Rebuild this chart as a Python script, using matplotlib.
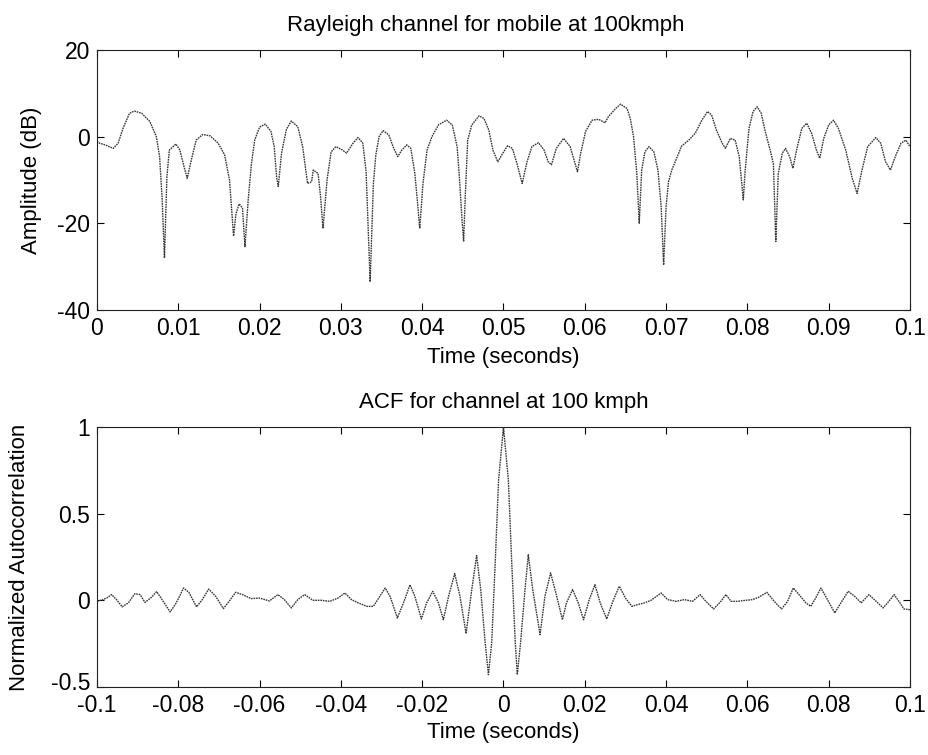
"""
Rayleigh fading channel at 100 kmph and its autocorrelation (MATLAB-style subplots)
"""

import matplotlib
matplotlib.use('Agg')
import matplotlib.pyplot as plt
import matplotlib.transforms as mtransforms

# top panel: channel amplitude in dB
t_chan = [0.0, 0.0003, 0.001, 0.002, 0.0026, 0.0032, 0.004, 0.0046, 0.0055, 0.0065,
          0.0073, 0.0077, 0.008, 0.0083, 0.0086, 0.0089, 0.0097, 0.0102, 0.0107, 0.0111,
          0.0116, 0.0122, 0.013, 0.0139, 0.0149, 0.0157, 0.0163, 0.0168, 0.0171, 0.0175,
          0.0179, 0.0182, 0.0186, 0.019, 0.0194, 0.02, 0.0207, 0.0214, 0.0218, 0.0221,
          0.0223, 0.0227, 0.0233, 0.0239, 0.0247, 0.0253, 0.0259, 0.0264, 0.0266, 0.0272,
          0.0275, 0.0278, 0.0283, 0.0288, 0.0294, 0.0302, 0.0307, 0.0315, 0.0321, 0.0327,
          0.0331, 0.0336, 0.034, 0.0343, 0.0347, 0.0352, 0.0359, 0.0365, 0.037, 0.0375,
          0.0381, 0.0386, 0.0391, 0.0394, 0.0397, 0.0401, 0.0406, 0.0412, 0.042, 0.043,
          0.0437, 0.0443, 0.0446, 0.0449, 0.0451, 0.0453, 0.0456, 0.0461, 0.047, 0.0476,
          0.0482, 0.0487, 0.0493, 0.0498, 0.0505, 0.0511, 0.0517, 0.0523, 0.0529, 0.0535,
          0.0543, 0.055, 0.0555, 0.0559, 0.0565, 0.0574, 0.0582, 0.0588, 0.0591, 0.0595,
          0.0601, 0.0609, 0.0617, 0.0625, 0.0629, 0.0638, 0.0644, 0.0652, 0.0656, 0.066,
          0.0664, 0.0667, 0.067, 0.0674, 0.0679, 0.0685, 0.069, 0.0694, 0.0697, 0.07,
          0.0703, 0.0707, 0.0713, 0.0719, 0.0728, 0.0736, 0.0744, 0.0751, 0.0756, 0.0762,
          0.0769, 0.0773, 0.0779, 0.0785, 0.079, 0.0795, 0.0797, 0.0802, 0.0807, 0.0812,
          0.0817, 0.0822, 0.0828, 0.0832, 0.0835, 0.0838, 0.0843, 0.0847, 0.0852, 0.0856,
          0.0861, 0.0867, 0.0873, 0.0879, 0.0885, 0.0889, 0.0894, 0.09, 0.0906, 0.0912,
          0.0921, 0.0929, 0.0935, 0.0941, 0.0948, 0.0958, 0.0964, 0.097, 0.0976, 0.0982,
          0.0989, 0.0995, 0.1]
amp_db = [-1.0, -1.5, -1.9, -2.7, -1.5, 1.9, 5.4, 5.9, 5.4, 3.5,
          0.0, -4.6, -13.8, -28.0, -9.2, -3.1, -1.7, -3.1, -6.9, -9.6,
          -5.4, -0.8, 0.5, 0.2, -1.5, -4.2, -10.0, -22.9, -17.7, -15.5,
          -16.5, -25.4, -14.6, -6.2, -0.8, 2.2, 2.9, 1.2, -2.3, -9.4,
          -11.5, -3.8, 1.7, 3.6, 2.3, -2.3, -10.8, -10.4, -7.7, -8.5,
          -13.8, -21.2, -10.0, -3.5, -2.3, -3.1, -3.8, -1.5, -0.2, -1.5,
          -8.0, -33.5, -10.8, -4.2, 0.0, 1.4, 0.4, -2.7, -4.6, -3.1,
          -1.9, -2.7, -8.5, -14.6, -21.2, -10.8, -3.1, 0.0, 2.7, 3.8,
          2.7, -2.3, -10.0, -19.2, -24.2, -13.8, -0.8, 2.7, 4.8, 4.2,
          1.5, -3.1, -5.8, -4.2, -2.1, -2.7, -6.5, -10.8, -5.8, -2.3,
          -1.4, -3.1, -5.8, -6.5, -2.7, -0.4, -2.3, -6.2, -8.1, -3.8,
          1.2, 3.8, 4.0, 3.2, 4.6, 6.5, 7.5, 6.5, 4.2, 0.0,
          -8.5, -20.0, -7.7, -3.5, -2.3, -3.5, -7.7, -16.2, -29.6, -16.2,
          -10.4, -7.7, -5.0, -2.2, -0.8, 0.8, 3.8, 5.8, 5.0, 1.5,
          -1.5, -2.7, -0.4, -0.8, -4.6, -14.6, -8.5, 1.9, 5.8, 6.9,
          5.4, 1.2, -3.1, -6.2, -24.2, -8.5, -3.8, -2.7, -4.6, -7.3,
          -2.7, 1.9, 3.1, 0.8, -3.1, -5.0, -0.4, 2.7, 3.8, 1.9,
          -3.1, -9.6, -13.1, -7.7, -2.3, -0.2, -1.5, -5.8, -7.7, -4.6,
          -1.5, -0.8, -2.3]

# bottom panel: normalized autocorrelation vs lag
t_acf = [-0.1, -0.0985, -0.0975, -0.0964, -0.0952, -0.0938, -0.0923, -0.0907, -0.0894, -0.0882,
         -0.0868, -0.0853, -0.084, -0.082, -0.0805, -0.0787, -0.0774, -0.0755, -0.0741, -0.0725,
         -0.0708, -0.0689, -0.0675, -0.0659, -0.0642, -0.0621, -0.06, -0.0576, -0.0555, -0.0539,
         -0.0522, -0.0506, -0.0489, -0.0469, -0.0448, -0.0427, -0.0407, -0.039, -0.0374, -0.0357,
         -0.0336, -0.032, -0.0307, -0.0291, -0.0279, -0.0261, -0.0246, -0.023, -0.0218, -0.0202,
         -0.0189, -0.0174, -0.016, -0.0148, -0.0135, -0.012, -0.0107, -0.0092, -0.0078, -0.0066,
         -0.0056, -0.0045, -0.0037, -0.0029, -0.002, -0.0012, 0.0, 0.0012, 0.002, 0.0029,
         0.0034, 0.0042, 0.0053, 0.0061, 0.0072, 0.009, 0.0102, 0.0116, 0.0131, 0.0145,
         0.0155, 0.017, 0.0184, 0.0197, 0.0211, 0.0225, 0.0238, 0.0254, 0.0269, 0.0285,
         0.03, 0.0316, 0.033, 0.0347, 0.0363, 0.0388, 0.0404, 0.0425, 0.0445, 0.0465,
         0.0484, 0.0498, 0.0517, 0.0535, 0.0547, 0.056, 0.0576, 0.0596, 0.0613, 0.0629,
         0.0648, 0.0666, 0.0684, 0.0699, 0.0713, 0.0727, 0.0744, 0.0756, 0.0768, 0.0781,
         0.0797, 0.0815, 0.083, 0.0848, 0.0864, 0.088, 0.0899, 0.0917, 0.0934, 0.0948,
         0.0961, 0.0973, 0.0985, 0.1]
acf = [-0.006, 0.004, 0.015, 0.033, 0.004, -0.038, -0.015, 0.038, 0.033, -0.012,
       0.013, 0.05, 0.004, -0.067, -0.015, 0.071, 0.046, -0.038, 0.004, 0.065,
       0.023, -0.048, -0.006, 0.046, 0.033, 0.01, 0.013, -0.004, 0.033, 0.004,
       -0.044, 0.004, 0.033, 0.0, 0.0, -0.006, 0.013, 0.042, 0.004, -0.015,
       -0.035, -0.035, 0.013, 0.071, 0.023, -0.102, -0.015, 0.09, 0.023, -0.108,
       -0.015, 0.052, -0.015, -0.112, 0.023, 0.154, 0.023, -0.192, 0.062, 0.258,
       0.062, -0.246, -0.429, -0.246, 0.235, 0.696, 1.0, 0.696, 0.235, -0.246,
       -0.429, -0.246, 0.062, 0.263, 0.062, -0.198, 0.023, 0.158, 0.023, -0.112,
       -0.015, 0.062, -0.015, -0.112, 0.004, 0.09, -0.015, -0.108, -0.006, 0.081,
       0.013, -0.035, -0.025, -0.015, 0.0, 0.042, 0.004, -0.006, 0.004, -0.006,
       0.033, -0.006, -0.05, -0.006, 0.033, -0.006, -0.006, 0.0, 0.004, 0.019,
       0.046, -0.006, -0.05, -0.006, 0.071, 0.033, -0.015, -0.035, 0.013, 0.071,
       0.004, -0.073, -0.015, 0.052, 0.023, -0.015, 0.033, -0.006, -0.044, -0.006,
       0.033, -0.006, -0.05, -0.054]

top_xticks = [0, 0.01, 0.02, 0.03, 0.04, 0.05, 0.06, 0.07, 0.08, 0.09, 0.1]
top_xlabels = ['0', '0.01', '0.02', '0.03', '0.04', '0.05', '0.06', '0.07', '0.08', '0.09', '0.1']
top_yticks = [-40, -20, 0, 20]
top_ylabels = ['-40', '-20', '0', '20']
bot_xticks = [-0.1, -0.08, -0.06, -0.04, -0.02, 0, 0.02, 0.04, 0.06, 0.08, 0.1]
bot_xlabels = ['-0.1', '-0.08', '-0.06', '-0.04', '-0.02', '0', '0.02', '0.04', '0.06', '0.08', '0.1']
bot_yticks = [-0.5, 0, 0.5, 1]
bot_ylabels = ['-0.5', '0', '0.5', '1']

plt.rcParams['font.family'] = ['Liberation Sans', 'DejaVu Sans']
plt.rcParams['axes.unicode_minus'] = False

line_style = dict(color='#3a3a3a', linewidth=1.0, linestyle=(0, (1.2, 0.6)))
fs = 16


def style_axes(ax):
	# matlab look: ticks inside on all four sides
	ax.tick_params(direction='in', length=5, width=0.8, top=True, right=True,
	               labelsize=16.5, pad=5, colors='black')
	for s in ax.spines.values():
		s.set_linewidth(0.8)
		s.set_color('#222222')


fig = plt.figure(figsize=(9.29, 7.55), dpi=100)
ax1 = fig.add_axes([0.1044, 0.5894, 0.8751, 0.3444])
ax2 = fig.add_axes([0.1044, 0.0901, 0.8751, 0.3444])

ax1.plot(t_chan, amp_db, **line_style)
ax1.set_xlim(0, 0.1)
ax1.set_ylim(-40, 20)
ax1.set_xticks(top_xticks)
ax1.set_xticklabels(top_xlabels)
ax1.set_yticks(top_yticks)
ax1.set_yticklabels(top_ylabels)
ax1.set_title('Rayleigh channel for mobile at 100kmph', fontsize=fs, pad=14, x=0.478)
ax1.set_xlabel('Time (seconds)', fontsize=fs, va='center')
ax1.xaxis.set_label_coords(0.5, -0.183)
ax1.set_ylabel('Amplitude (dB)', fontsize=fs, va='center')
ax1.yaxis.set_label_coords(-0.081, 0.5)
style_axes(ax1)

ax2.plot(t_acf, acf, **line_style)
ax2.set_xlim(-0.1, 0.1)
ax2.set_ylim(-0.5, 1)
ax2.set_xticks(bot_xticks)
ax2.set_xticklabels(bot_xlabels)
ax2.set_yticks(bot_yticks)
ax2.set_yticklabels(bot_ylabels)
ax2.set_title('ACF for channel at 100 kmph', fontsize=fs, pad=14)
ax2.set_xlabel('Time (seconds)', fontsize=fs, va='center')
ax2.xaxis.set_label_coords(0.5, -0.177)
ax2.set_ylabel('Normalized Autocorrelation', fontsize=fs, va='center')
ax2.yaxis.set_label_coords(-0.095, 0.5)
style_axes(ax2)

# the -0.5 label sits right on top of the -0.1 label, lift it a little
lift = mtransforms.ScaledTranslation(0, 4 / 72, fig.dpi_scale_trans)
ax2.get_yticklabels()[0].set_transform(ax2.get_yticklabels()[0].get_transform() + lift)

fig.savefig('out.png', dpi=100)
plt.close(fig)
